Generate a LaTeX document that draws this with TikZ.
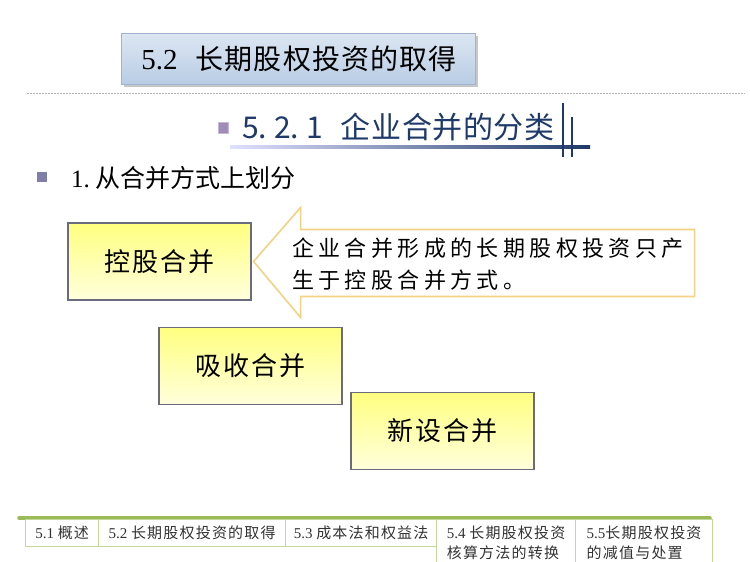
\documentclass[tikz,border=0pt]{standalone}
\usepackage{fontspec}
\setmainfont{Liberation Serif}
\newfontfamily\cjk{Noto Sans CJK SC}
\newfontfamily\cjkw[LetterSpace=8]{Noto Sans CJK SC}
\usetikzlibrary{calc}
\definecolor{hdrtop}{HTML}{DCE6F2}
\definecolor{hdrbot}{HTML}{B9CDE5}
\definecolor{hdrline}{HTML}{9DB3CE}
\definecolor{navy}{HTML}{1F3A68}
\definecolor{ylwtop}{HTML}{FFFF80}
\definecolor{ylwbot}{HTML}{FFFFDC}
\definecolor{boxline}{HTML}{6B6B7E}
\definecolor{callline}{HTML}{F4D283}
\definecolor{tabbar}{HTML}{9BBB59}
\definecolor{tabline}{HTML}{C4D79B}
\definecolor{bulletc}{HTML}{7F7FAA}
\definecolor{iconc}{HTML}{8064A2}

\begin{document}
\begin{tikzpicture}[x=1pt, y=-1pt,
    hdr/.style={draw=hdrline, top color=hdrtop, bottom color=hdrbot,
                minimum width=354pt, minimum height=51pt, inner sep=0pt},
    ybox/.style={draw=boxline, line width=1.1pt, top color=ylwtop,
                 bottom color=ylwbot, minimum width=183pt, minimum height=77pt,
                 font=\cjkw\fontsize{26}{30}\selectfont},
    tab/.style={draw=tabline, line width=1.2pt, anchor=north west,
                inner sep=0pt, align=left, text=black!80,
                font=\fontsize{15}{20}\selectfont},
    note/.style={anchor=west, align=left, inner sep=0pt,
                 font=\cjk\fontsize{22}{32}\selectfont\addfontfeature{LetterSpace=20}}
  ]
    \clip (0,0) rectangle (750,562);
    \fill[white] (0,0) rectangle (750,562);

    % Title block
    \fill[black!22] (124,36) rectangle (478,87);
    \node[hdr] (title) at (298,58.5) {};
    \node[font=\fontsize{29}{34}\selectfont] (titletxt) at (299,58.5)
      {5.2\hspace{18pt}{\cjk\fontsize{28}{32}\selectfont\addfontfeature{LetterSpace=4}长期股权投资的取得}};
    \draw[gray!60, line width=0.8pt, dash pattern=on 1.5pt off 1.5pt] (27,93) -- (745,93);

    % Section heading
    \fill[iconc!75, draw=iconc!45] (218,122) rectangle (228,133);
    \node[anchor=west, inner sep=0pt, text=navy,
          font=\cjk\fontsize{30}{34}\selectfont] (sect) at (242,127)
      {5.\hspace{7pt}2.\hspace{7pt}1\hspace{18pt}{\addfontfeature{LetterSpace=2}企业合并的分类}};
    \shade[left color=blue!12, middle color=blue!55!cyan, right color=navy]
      (230,145) rectangle (590,148);
    \draw[navy, line width=2.5pt] (563,103) -- (563,157);
    \draw[navy, line width=2.5pt] (572,117) -- (572,157);

    % Bullet
    \fill[bulletc] (37,172) rectangle (47,182);
    \node[anchor=west, inner sep=0pt, font=\fontsize{25}{28}\selectfont] (point) at (71,178)
      {1.\hspace{6pt}{\cjk\fontsize{25}{28}\selectfont 从合并方式上划分}};

    % Merger types
    \node[ybox] (konggu) at (159.5,261.5) {控股合并};
    \node[ybox] (xishou) at (250.5,366) {吸收合并};
    \node[ybox] (xinshe) at (442.5,431) {新设合并};

    % Callout arrow
    \coordinate (tip) at ($(konggu.east)+(2,0)$);
    \draw[callline, line width=1.6pt, fill=white, line join=miter]
      (tip) -- ++(47,-54) -- ++(0,22) -- ++(394,0) -- ++(0,67)
      -- ++(-394,0) -- ++(0,21) -- cycle;
    \node[note] (notetxt) at (292,264)
      {企业合并形成的长期股权投资只产\\生于控股合并方式。};

    % Chapter tabs
    \draw[tabbar, line width=3.5pt, line cap=round] (19,518) -- (710,518);
    \node[tab, minimum width=73pt, minimum height=27pt] (t1) at (25,519)
      {5.1 {\cjkw\fontsize{15}{20}\selectfont 概述}};
    \node[tab, minimum width=187pt, minimum height=27pt] (t2) at (98,519)
      {5.2 {\cjkw\fontsize{15}{20}\selectfont 长期股权投资的取得}};
    \node[tab, minimum width=151pt, minimum height=27pt] (t3) at (285,519)
      {5.3 {\cjkw\fontsize{15}{20}\selectfont 成本法和权益法}};
    \node[tab, minimum width=139pt, minimum height=46pt] (t4) at (436,519)
      {5.4 {\cjkw\fontsize{15}{20}\selectfont 长期股权投资}\\{\cjkw\fontsize{15}{20}\selectfont 核算方法的转换}};
    \node[tab, minimum width=137pt, minimum height=46pt] (t5) at (575,519)
      {5.5{\cjkw\fontsize{15}{20}\selectfont 长期股权投资}\\{\cjkw\fontsize{15}{20}\selectfont 的减值与处置}};
  \end{tikzpicture}
\end{document}
